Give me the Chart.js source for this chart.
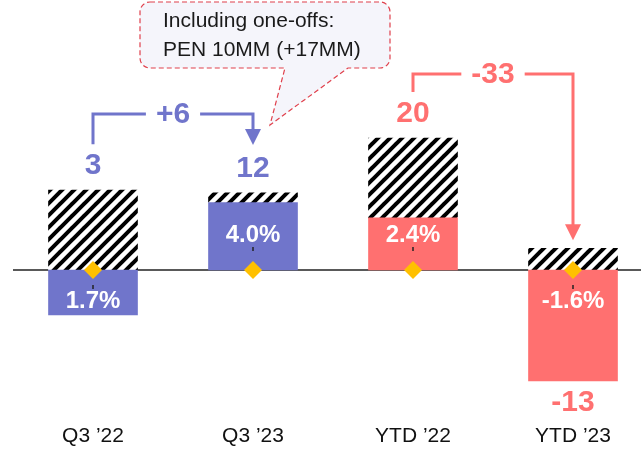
<!DOCTYPE html>
<html>
<head>
<meta charset="utf-8">
<script src="https://cdn.jsdelivr.net/npm/chart.js@4/dist/chart.umd.min.js"></script>
<style>
  html, body { margin: 0; padding: 0; background: #ffffff; }
  #wrap { width: 641px; height: 453px; position: relative; }
</style>
</head>
<body>
<div id="wrap"><canvas id="chart" width="641" height="453"></canvas></div>
<script>
// Net result per period, PEN MM
const categories = ["Q3 \u201922", "Q3 \u201923", "YTD \u201922", "YTD \u201923"];
const coreValues = [-6.8, 10.2, 7.9, -16.8];      // solid bars
const oneOffValues = [12.1, 1.5, 12.1, 3.3];      // hatched bars (one-offs)
const totalLabels = ["3", "12", "20", "-13"];
const marginLabels = ["1.7%", "4.0%", "2.4%", "-1.6%"];
const deltaLabels = ["+6", "-33"];
const markerValues = [0, 0, 0, 0];
const calloutLines = ["Including one-offs:", "PEN 10MM (+17MM)"];

const BLUE = "#7075CB";
const RED = "#FF7070";
const barColors = [BLUE, BLUE, RED, RED];
const FONT = "'Liberation Sans', Arial, sans-serif";

// diagonal black-and-white stripes
function makeHatch() {
  const s = 12;
  const c = document.createElement("canvas");
  c.width = s; c.height = s;
  const g = c.getContext("2d");
  g.fillStyle = "#ffffff";
  g.fillRect(0, 0, s, s);
  g.strokeStyle = "#000000";
  g.lineWidth = 4;
  g.lineCap = "square";
  for (const o of [-s, 0, s]) {
    g.beginPath();
    g.moveTo(o, s);
    g.lineTo(o + s, 0);
    g.stroke();
  }
  return g.createPattern(c, "repeat");
}

const ctx = document.getElementById("chart").getContext("2d");
const hatch = makeHatch();

const decorations = {
  id: "decorations",
  beforeDatasetsDraw(chart) {
    const g = chart.ctx;
    const y0 = chart.scales.y.getPixelForValue(0);
    g.save();
    g.strokeStyle = "#222222";
    g.lineWidth = 1.3;
    g.beginPath();
    g.moveTo(13, y0);
    g.lineTo(chart.width, y0);
    g.stroke();
    g.restore();
  },
  afterDatasetsDraw(chart) {
    const g = chart.ctx;
    const xs = chart.scales.x, ys = chart.scales.y;
    const y0 = ys.getPixelForValue(0);
    g.save();
    g.textAlign = "center";
    g.textBaseline = "middle";

    const tops = [];
    categories.forEach((c, i) => {
      const x = xs.getPixelForValue(i);
      const core = coreValues[i];
      const pos = Math.max(core, 0) + oneOffValues[i];
      const neg = Math.min(core, 0);
      // small tick next to the marker
      g.strokeStyle = "#222222";
      g.lineWidth = 1.5;
      g.beginPath();
      if (core >= 0) { g.moveTo(x, y0 - 23); g.lineTo(x, y0 - 19); }
      else { g.moveTo(x, y0 + 15); g.lineTo(x, y0 + 19); }
      g.stroke();

      // margin inside the solid bar
      g.fillStyle = "#ffffff";
      g.font = "bold 24px " + FONT;
      g.fillText(marginLabels[i], x, core >= 0 ? y0 - 35 : y0 + 31);

      // total label
      g.fillStyle = barColors[i];
      g.font = "bold 30px " + FONT;
      const total = pos + neg;
      let ty;
      if (total >= 0) ty = ys.getPixelForValue(pos) - 24;
      else ty = ys.getPixelForValue(neg) + 22;
      g.fillText(totalLabels[i], x, ty);
      tops.push(ty);
    });

    // change brackets with arrows
    function bracket(i0, i1, yLine, yStart, yEnd, label, color) {
      const xa = xs.getPixelForValue(i0);
      const xb = xs.getPixelForValue(i1);
      const xm = (xa + xb) / 2;
      g.font = "bold 30px " + FONT;
      const half = g.measureText(label).width / 2 + 10;
      g.strokeStyle = color;
      g.fillStyle = color;
      g.lineWidth = 3;
      g.lineJoin = "miter";
      g.beginPath();
      g.moveTo(xa, yStart);
      g.lineTo(xa, yLine);
      g.lineTo(xm - half, yLine);
      g.moveTo(xm + half, yLine);
      g.lineTo(xb, yLine);
      g.lineTo(xb, yEnd - 15);
      g.stroke();
      g.beginPath();
      g.moveTo(xb - 8, yEnd - 16);
      g.lineTo(xb + 8, yEnd - 16);
      g.lineTo(xb, yEnd);
      g.closePath();
      g.fill();
      g.fillText(label, xm, yLine + 1);
    }
    bracket(0, 1, 114, tops[0] - 22, 145, deltaLabels[0], BLUE);
    bracket(2, 3, 74, tops[2] - 22, ys.getPixelForValue(oneOffValues[3]) - 8, deltaLabels[1], RED);
    g.restore();
  },
  afterDraw(chart) {
    const g = chart.ctx;
    g.save();
    // callout bubble with tail
    const L = 140, T = 2, R = 390, B = 68, r = 10;
    g.beginPath();
    g.moveTo(L + r, T);
    g.lineTo(R - r, T);
    g.arcTo(R, T, R, T + r, r);
    g.lineTo(R, B - r);
    g.arcTo(R, B, R - r, B, r);
    g.lineTo(348, B);
    g.lineTo(270, 125);
    g.lineTo(285, B);
    g.lineTo(L + r, B);
    g.arcTo(L, B, L, B - r, r);
    g.lineTo(L, T + r);
    g.arcTo(L, T, L + r, T, r);
    g.closePath();
    g.fillStyle = "#F5F5FB";
    g.fill();
    g.setLineDash([5, 3]);
    g.strokeStyle = "#E0404C";
    g.lineWidth = 1.2;
    g.stroke();
    g.setLineDash([]);
    g.fillStyle = "#1a1a1a";
    g.font = "21px " + FONT;
    g.textAlign = "left";
    g.textBaseline = "middle";
    g.fillText(calloutLines[0], 163, 21);
    g.fillText(calloutLines[1], 163, 50);
    g.restore();
  }
};

new Chart(ctx, {
  type: "bar",
  data: {
    labels: categories,
    datasets: [
      {
        type: "line",
        label: "marker",
        data: markerValues,
        stack: "markers",
        showLine: false,
        pointStyle: "rectRot",
        pointRadius: 9,
        pointHoverRadius: 9,
        pointBackgroundColor: "#FFC000",
        pointBorderWidth: 0,
        borderWidth: 0,
        order: 0,
        clip: false
      },
      {
        label: "core",
        data: coreValues,
        stack: "main",
        backgroundColor: barColors,
        borderWidth: 0,
        barThickness: 89,
        order: 1,
        clip: false
      },
      {
        label: "one-offs",
        data: oneOffValues,
        stack: "main",
        backgroundColor: hatch,
        borderWidth: 0,
        barThickness: 89,
        order: 1,
        clip: false
      }
    ]
  },
  options: {
    responsive: false,
    animation: false,
    events: [],
    layout: { autoPadding: false, padding: { left: 93, right: 68, top: 0, bottom: 0 } },
    plugins: { legend: { display: false }, tooltip: { enabled: false } },
    scales: {
      x: {
        offset: false,
        stacked: true,
        grid: { display: false, drawTicks: false },
        border: { display: false },
        ticks: { color: "#111111", font: { family: FONT, size: 21 }, padding: 7, maxRotation: 0, autoSkip: false },
        afterFit(scale) { scale.height = 36; }
      },
      y: {
        display: false,
        stacked: true,
        min: -22.27,
        max: 40.91
      }
    }
  },
  plugins: [decorations]
});
</script>
</body>
</html>
